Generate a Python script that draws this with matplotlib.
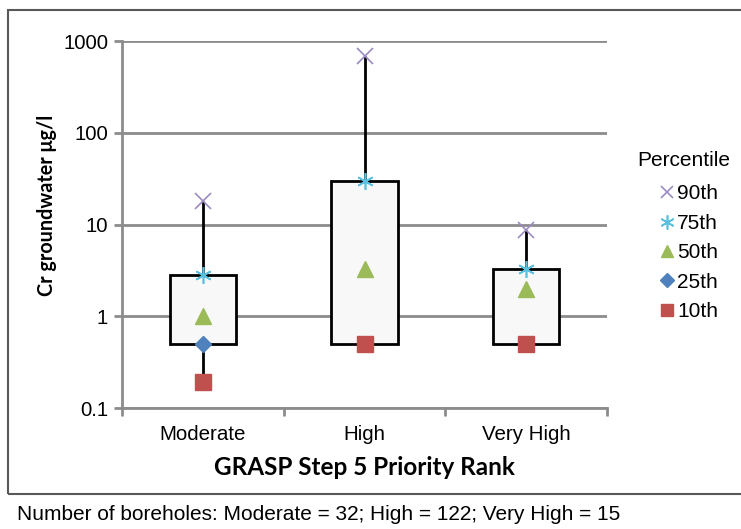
import matplotlib
matplotlib.use("Agg")
import matplotlib.pyplot as plt
from matplotlib.patches import Rectangle

categories = ["Moderate", "High", "Very High"]
p90 = [18, 690, 8.7]
p75 = [2.8, 30, 3.3]
p50 = [1.0, 3.3, 2.0]
p25 = [0.5, 0.5, 0.5]
p10 = [0.19, 0.5, 0.5]
yticks = [0.1, 1, 10, 100, 1000]
ytick_labels = ["0.1", "1", "10", "100", "1000"]
footnote = "Number of boreholes: Moderate = 32; High = 122; Very High = 15"

W, H = 741, 529
fig = plt.figure(figsize=(W / 100, H / 100), dpi=100)
plt.rcParams['font.family'] = ['Liberation Sans', 'DejaVu Sans']

ax = fig.add_axes([122 / W, (H - 408) / H, (607 - 122) / W, (408 - 41) / H])
ax.set_yscale('log')
ax.set_ylim(0.1, 1000)
ax.set_xlim(0, 3)

grid_c = '#8c8c8c'
ax.set_yticks(yticks)
ax.set_yticklabels(ytick_labels, fontsize=14.7)
ax.yaxis.set_minor_locator(matplotlib.ticker.NullLocator())
ax.set_xticks([0, 1, 2, 3])
ax.set_xticklabels([])
ax.set_xticks([0.5, 1.5, 2.5], minor=True)
ax.set_xticklabels(categories, minor=True, fontsize=14.8)
ax.tick_params(axis='x', which='minor', length=0, pad=12)
ax.tick_params(axis='x', which='major', length=6, width=2, color=grid_c, direction='out')
ax.tick_params(axis='y', which='major', length=6, width=2, color=grid_c, direction='out', pad=4)
ax.grid(axis='y', which='major', color=grid_c, lw=2, zorder=0)
ax.set_axisbelow(True)
for s in ['top', 'right']:
    ax.spines[s].set_visible(False)
for s in ['left', 'bottom']:
    ax.spines[s].set_color(grid_c)
    ax.spines[s].set_linewidth(2)

x = [0.5, 1.5, 2.5]
heights = [a - b for a, b in zip(p75, p25)]
ax.bar(x, heights, bottom=p25, width=0.41, color='#f8f8f8', edgecolor='black', linewidth=2, zorder=2)
ax.vlines(x, p75, p90, color='black', lw=2, zorder=2)
ax.vlines(x, p10, p25, color='black', lw=2, zorder=2)

h90, = ax.plot(x, p90, ls='none', marker='x', ms=11, mew=1.2, color='#9c8bc0', zorder=4, label='90th')
h75, = ax.plot(x, p75, ls='none', marker=(6, 2, 0), ms=12, mew=1.2, color='#5bc0de', zorder=4, label='75th')
h50, = ax.plot(x, p50, ls='none', marker='^', ms=11, color='#9bbb59', zorder=4, label='50th')
h25, = ax.plot(x, p25, ls='none', marker='D', ms=8, color='#4f81bd', zorder=4, label='25th')
h10, = ax.plot(x, p10, ls='none', marker='s', ms=11, color='#c0504d', zorder=5, label='10th')

ax.set_ylabel("Cr groundwater μg/l", fontsize=14.2, fontweight='bold', family=['Lato', 'DejaVu Sans'])
ax.yaxis.set_label_coords((57 - 122) / (607 - 122), (408 - 205) / (408 - 41))
ax.set_xlabel("GRASP Step 5 Priority Rank", fontsize=17.5, fontweight='bold', family=['Lato', 'DejaVu Sans'], labelpad=9)

fig.text(637 / W, 1 - 161 / H, "Percentile", fontsize=15, va='center', ha='left')
leg = fig.legend(handles=[h90, h75, h50, h25, h10], loc='upper left',
                 bbox_to_anchor=(649 / W, 1 - 174 / H), frameon=False,
                 fontsize=15, markerscale=0.85,
                 handlelength=0.7, handletextpad=0.15, labelspacing=0.5, borderpad=0)

fig.patches.append(Rectangle((8 / W, 1 - 494 / H), (780 - 8) / W, (494 - 10) / H,
                             transform=fig.transFigure, fill=False, edgecolor='#595959', lw=1.5))
fig.text(17 / W, 1 - 515 / H, footnote, fontsize=15, va='center', ha='left')

fig.savefig("out.png", dpi=100)
